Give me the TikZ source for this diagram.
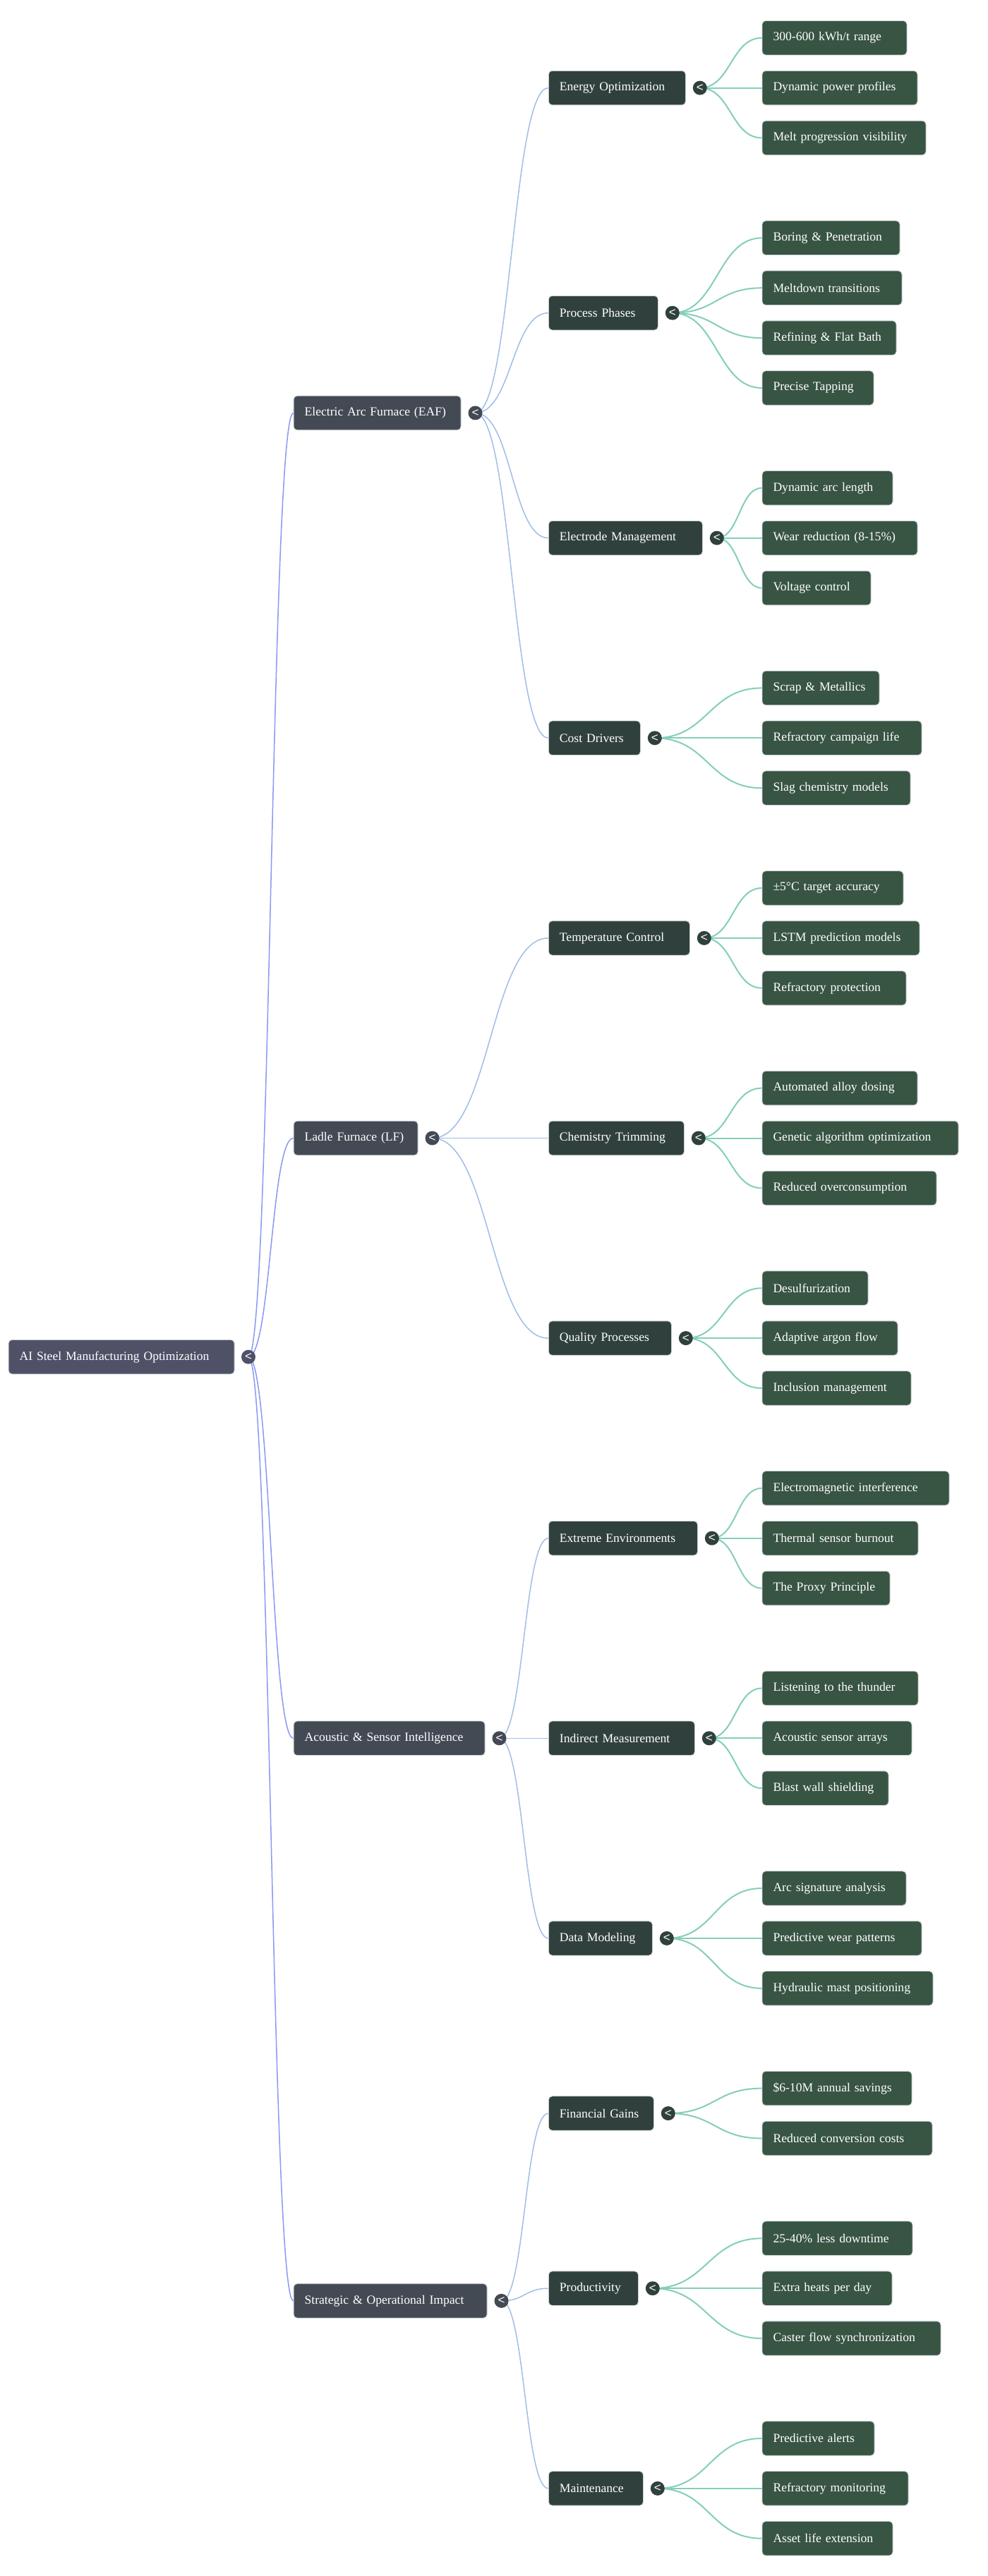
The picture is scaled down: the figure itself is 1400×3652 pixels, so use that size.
\documentclass[tikz,border=0pt]{standalone}
\usepackage{fontspec}
\setmainfont{Liberation Serif}
\newfontfamily\togfont{Liberation Sans}
\usetikzlibrary{positioning,calc,backgrounds}
\definecolor{rootfill}{RGB}{79,81,103}
\definecolor{catfill}{RGB}{67,74,84}
\definecolor{subfill}{RGB}{48,65,61}
\definecolor{leaffill}{RGB}{56,84,67}
\definecolor{boxline}{RGB}{200,206,210}
\definecolor{rootlink}{RGB}{138,152,246}
\definecolor{catlink}{RGB}{160,190,230}
\definecolor{sublink}{RGB}{132,206,186}
\newcommand{\mmlink}[3]{%
  \path[draw,#1] let \p1=(#2), \p2=(#3) in
    (\p1) .. controls ({(\x1+\x2)/2},\y1) and ({(\x1+\x2)/2},\y2) .. (\p2);}

\begin{document}
\begin{tikzpicture}[x=1pt,y=-1pt,
  box/.style={anchor=west, rounded corners=5, draw=boxline, line width=0.8,
    text=white, align=left, inner xsep=15.5, minimum height=48.5,
    font=\fontsize{17.6}{21}\selectfont},
  rootbox/.style={box, fill=rootfill, text width=#1},
  cat/.style={box, fill=catfill, text width=#1},
  sub/.style={box, fill=subfill, text width=#1},
  leaf/.style={box, fill=leaffill, text width=#1},
  tog/.style={circle, fill=#1, inner sep=0, minimum size=20, text=white,
    font=\togfont\fontsize{17}{17}\selectfont},
  rl/.style={line width=1.5, rootlink},
  cl/.style={line width=1.5, catlink},
  sl/.style={line width=2, sublink}]
\useasboundingbox (0,0) rectangle (1400,3652);

\node[rootbox=289pt] (r) at (11.7,1923.7) {AI Steel Manufacturing Optimization};
\node[tog=rootfill] (tr) at ([xshift=19.5]r.east) {<};

\node[cat=206pt] (a) at (415.7,585.45) {Electric Arc Furnace (EAF)};
\node[cat=145pt] (b) at (415.7,1613.5) {Ladle Furnace (LF)};
\node[cat=240pt] (c) at (415.7,2464.3) {Acoustic \& Sensor Intelligence};
\node[cat=243pt] (d) at (415.7,3261.9) {Strategic \& Operational Impact};

\node[sub=163pt] (a1) at (777,124.6) {Energy Optimization};
\node[sub=124pt] (a2) at (777,443.65) {Process Phases};
\node[sub=187pt] (a3) at (777,762.7) {Electrode Management};
\node[sub=99pt] (a4) at (777,1046.3) {Cost Drivers};
\node[sub=169pt] (b1) at (777,1329.9) {Temperature Control};
\node[sub=161pt] (b2) at (777,1613.5) {Chemistry Trimming};
\node[sub=143pt] (b3) at (777,1897.1) {Quality Processes};
\node[sub=180pt] (c1) at (777,2180.7) {Extreme Environments};
\node[sub=176pt] (c2) at (777,2464.3) {Indirect Measurement};
\node[sub=116pt] (c3) at (777,2747.9) {Data Modeling};
\node[sub=118pt] (d1) at (777,2996.05) {Financial Gains};
\node[sub=96pt] (d2) at (777,3244.2) {Productivity};
\node[sub=103pt] (d3) at (777,3527.8) {Maintenance};

\foreach \nd in {a,b,c,d}
  \node[tog=catfill] (t\nd) at ([xshift=20]\nd.east) {<};
\foreach \nd in {a1,a2,a3,a4,b1,b2,b3,c1,c2,c3,d1,d2,d3}
  \node[tog=subfill] (t\nd) at ([xshift=20]\nd.east) {<};

\node[leaf=174pt] (a11) at (1079.6,53.7) {300-600 kWh/t range};
\node[leaf=189pt] (a12) at (1079.6,124.6) {Dynamic power profiles};
\node[leaf=201pt] (a13) at (1079.6,195.5) {Melt progression visibility};
\node[leaf=164pt] (a21) at (1079.6,337.3) {Boring \& Penetration};
\node[leaf=167pt] (a22) at (1079.6,408.2) {Meltdown transitions};
\node[leaf=159pt] (a23) at (1079.6,479.1) {Refining \& Flat Bath};
\node[leaf=127pt] (a24) at (1079.6,550.0) {Precise Tapping};
\node[leaf=154pt] (a31) at (1079.6,691.8) {Dynamic arc length};
\node[leaf=189pt] (a32) at (1079.6,762.7) {Wear reduction (8-15\%)};
\node[leaf=123pt] (a33) at (1079.6,833.6) {Voltage control};
\node[leaf=135pt] (a41) at (1079.6,975.4) {Scrap \& Metallics};
\node[leaf=195pt] (a42) at (1079.6,1046.3) {Refractory campaign life};
\node[leaf=179pt] (a43) at (1079.6,1117.2) {Slag chemistry models};
\node[leaf=169pt] (b11) at (1079.6,1259.0) {±5°C target accuracy};
\node[leaf=192pt] (b12) at (1079.6,1329.9) {LSTM prediction models};
\node[leaf=173pt] (b13) at (1079.6,1400.8) {Refractory protection};
\node[leaf=189pt] (b21) at (1079.6,1542.6) {Automated alloy dosing};
\node[leaf=247pt] (b22) at (1079.6,1613.5) {Genetic algorithm optimization};
\node[leaf=216pt] (b23) at (1079.6,1684.4) {Reduced overconsumption};
\node[leaf=119pt] (b31) at (1079.6,1826.2) {Desulfurization};
\node[leaf=161pt] (b32) at (1079.6,1897.1) {Adaptive argon flow};
\node[leaf=180pt] (b33) at (1079.6,1968.0) {Inclusion management};
\node[leaf=234pt] (c11) at (1079.6,2109.8) {Electromagnetic interference};
\node[leaf=190pt] (c12) at (1079.6,2180.7) {Thermal sensor burnout};
\node[leaf=150pt] (c13) at (1079.6,2251.6) {The Proxy Principle};
\node[leaf=190pt] (c21) at (1079.6,2393.4) {Listening to the thunder};
\node[leaf=181pt] (c22) at (1079.6,2464.3) {Acoustic sensor arrays};
\node[leaf=148pt] (c23) at (1079.6,2535.2) {Blast wall shielding};
\node[leaf=173pt] (c31) at (1079.6,2677.0) {Arc signature analysis};
\node[leaf=195pt] (c32) at (1079.6,2747.9) {Predictive wear patterns};
\node[leaf=211pt] (c33) at (1079.6,2818.8) {Hydraulic mast positioning};
\node[leaf=181pt] (d11) at (1079.6,2960.6) {\$6-10M annual savings};
\node[leaf=210pt] (d12) at (1079.6,3031.5) {Reduced conversion costs};
\node[leaf=182pt] (d21) at (1079.6,3173.3) {25-40\% less downtime};
\node[leaf=153pt] (d22) at (1079.6,3244.2) {Extra heats per day};
\node[leaf=222pt] (d23) at (1079.6,3315.1) {Caster flow synchronization};
\node[leaf=128pt] (d31) at (1079.6,3456.9) {Predictive alerts};
\node[leaf=176pt] (d32) at (1079.6,3527.8) {Refractory monitoring};
\node[leaf=154pt] (d33) at (1079.6,3598.7) {Asset life extension};

\begin{scope}[on background layer]
\fill[white] (0,0) rectangle (1400,3652);
\foreach \ch in {a,b,c,d}
  \mmlink{rl}{tr}{\ch.west};
\foreach \pa/\ch in {a/a1,a/a2,a/a3,a/a4,b/b1,b/b2,b/b3,c/c1,c/c2,c/c3,d/d1,d/d2,d/d3}
  \mmlink{cl}{t\pa}{\ch.west};
\foreach \pa/\ch in {a1/a11,a1/a12,a1/a13,a2/a21,a2/a22,a2/a23,a2/a24,
    a3/a31,a3/a32,a3/a33,a4/a41,a4/a42,a4/a43,b1/b11,b1/b12,b1/b13,
    b2/b21,b2/b22,b2/b23,b3/b31,b3/b32,b3/b33,c1/c11,c1/c12,c1/c13,
    c2/c21,c2/c22,c2/c23,c3/c31,c3/c32,c3/c33,d1/d11,d1/d12,
    d2/d21,d2/d22,d2/d23,d3/d31,d3/d32,d3/d33}
  \mmlink{sl}{t\pa}{\ch.west};
\end{scope}
\end{tikzpicture}
\end{document}
